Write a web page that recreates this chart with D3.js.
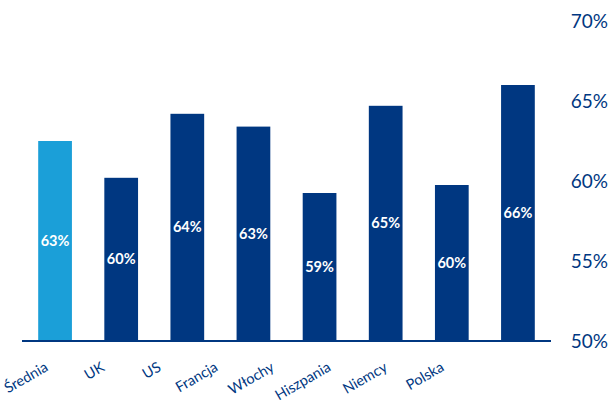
<!DOCTYPE html>
<html>
<head>
<meta charset="utf-8">
<script src="https://cdn.jsdelivr.net/npm/d3@7"></script>
<style>
  body { margin: 0; background: #fff; }
  svg { display: block; font-family: Lato, "Open Sans", sans-serif; }
</style>
</head>
<body>
<div id="chart"></div>
<script>
const categories = ['Średnia', 'UK', 'US', 'Francja', 'Włochy', 'Hiszpania', 'Niemcy', 'Polska'];
const values = [62.5, 60.2, 64.2, 63.4, 59.25, 64.7, 59.75, 66.0];
const valueLabels = ['63%', '60%', '64%', '63%', '59%', '65%', '60%', '66%'];
const yTicks = [50, 55, 60, 65, 70];

const width = 612;
const height = 409;
const navy = '#003781';
const lightBlue = '#1b9fd8';

const svg = d3.select('#chart')
  .append('svg')
  .attr('width', width)
  .attr('height', height);

const x = d3.scaleBand()
  .domain(categories)
  .range([22, 551])
  .paddingInner(0.49)
  .paddingOuter(0.245);

// category labels sit on their own, slightly tighter spacing
const xLabel = d3.scalePoint()
  .domain(categories)
  .range([49, 445]);

const y = d3.scaleLinear()
  .domain([50, 70])
  .range([341, 21]);

// Bars
svg.append('g')
  .selectAll('rect')
  .data(categories)
  .join('rect')
  .attr('x', d => x(d))
  .attr('width', x.bandwidth())
  .attr('y', (d, i) => y(values[i]))
  .attr('height', (d, i) => y(50) - y(values[i]))
  .attr('fill', (d, i) => i === 0 ? lightBlue : navy);

// Value labels inside bars
svg.append('g')
  .selectAll('text')
  .data(categories)
  .join('text')
  .attr('x', d => x(d) + x.bandwidth() / 2)
  .attr('y', (d, i) => (y(values[i]) + y(50)) / 2)
  .attr('dy', '0.35em')
  .attr('text-anchor', 'middle')
  .attr('fill', '#fff')
  .style('font-size', '14.5px')
  .style('font-weight', 'bold')
  .text((d, i) => valueLabels[i]);

// Baseline
svg.append('line')
  .attr('x1', x.range()[0])
  .attr('x2', x.range()[1])
  .attr('y1', y(50))
  .attr('y2', y(50))
  .attr('stroke', navy)
  .attr('stroke-width', 2);

// Right axis (labels only)
const yAxis = svg.append('g')
  .attr('transform', 'translate(608,0)')
  .call(d3.axisRight(y).tickValues(yTicks).tickSize(0).tickPadding(0).tickFormat(d => d + '%'));
yAxis.select('.domain').remove();
yAxis.selectAll('text')
  .attr('text-anchor', 'end')
  .attr('fill', navy)
  .style('font-size', '19px')
  .style('font-family', 'Lato, "Open Sans", sans-serif');

// Rotated category labels
svg.append('g')
  .selectAll('text')
  .data(categories)
  .join('text')
  .attr('x', d => xLabel(d))
  .attr('y', 370)
  .attr('transform', d => `rotate(-30,${xLabel(d)},370)`)
  .attr('text-anchor', 'end')
  .attr('fill', navy)
  .style('font-size', '14.5px')
  .text(d => d);
</script>
</body>
</html>
